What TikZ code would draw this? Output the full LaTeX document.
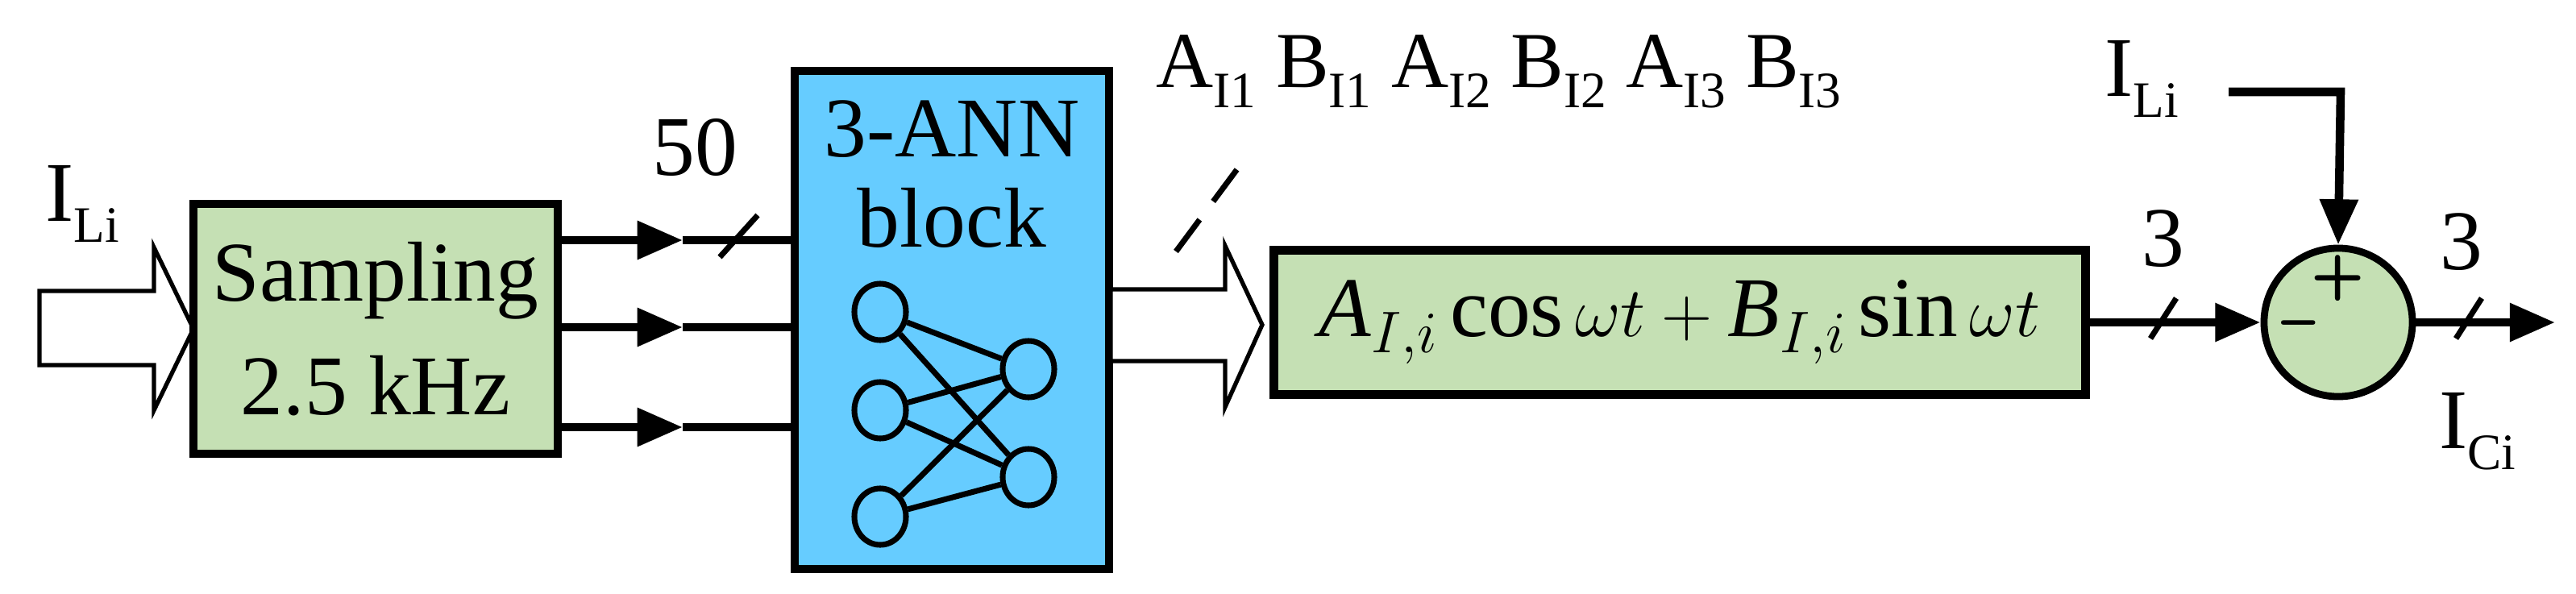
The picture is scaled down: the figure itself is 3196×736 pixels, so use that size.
\documentclass[tikz,border=0pt]{standalone}
\usepackage{fontspec}
\setmainfont{Liberation Serif}
\newfontfamily\tms{Liberation Serif}
\usetikzlibrary{arrows.meta,shapes.geometric}
\definecolor{bgreen}{RGB}{197,224,180}
\definecolor{bblue}{RGB}{102,204,255}
\newcommand{\sbs}[1]{\raisebox{-0.25em}{\fontsize{18}{20}\selectfont #1}}
\begin{document}
\begin{tikzpicture}[x=0.01cm,y=-0.01cm,
  blk/.style={draw,line width=3pt,inner sep=0pt},
  sig/.style={line width=3pt,-{Triangle[length=16pt,width=13pt]}},
  wire/.style={line width=3pt},
  hollow/.style={draw,line width=1.5pt,fill=white,line join=miter},
  neuron/.style={draw,line width=2pt,ellipse,minimum width=0.64cm,minimum height=0.70cm,inner sep=0pt},
  txt/.style={font=\tms\fontsize{30}{34}\selectfont,inner sep=0pt},
  slash/.style={line width=2pt}]
\path[use as bounding box] (0,0) rectangle (3196,736);
% hollow input arrow
\draw[hollow] (49,361) -- (191,361) -- (191,307) -- (240,408) -- (191,509) -- (191,453) -- (49,453) -- cycle;
\node[txt] (ili) at (102,253) {I\sbs{Li}};
% blocks
\node[blk,fill=bgreen,minimum width=4.52cm,minimum height=3.10cm] (samp) at (466,408) {};
\node[txt,align=center] (samptxt) at (466,408) {Sampling\\[6pt]2.5 kHz};
\node[blk,fill=bblue,minimum width=3.90cm,minimum height=6.18cm] (ann) at (1181,397) {};
\node[txt] (t1) at (1181,160) {3-ANN};
\node[txt] (t2) at (1181,270) {block};
% neurons
\node[neuron] (n1) at (1092,387) {};
\node[neuron] (n2) at (1092,509) {};
\node[neuron] (n3) at (1092,641) {};
\node[neuron] (n4) at (1276,458) {};
\node[neuron] (n5) at (1276,592) {};
\foreach \a in {n1,n2,n3}\foreach \b in {n4,n5}\draw[line width=2pt] (\a) -- (\b);
% three signal lines
\foreach \yy/\nm in {298/a,406/b,530/c}{
  \coordinate (p\nm) at (847,\yy);
  \draw[sig] (samp.east|-p\nm) -- (p\nm);
  \draw[wire] (p\nm) -- (ann.west|-p\nm);
}
\draw[slash] (893,319) -- (940,267);
\node[txt] (fifty) at (862,183) {50};
% hollow output arrow
\draw[hollow] (1378,359) -- (1520,359) -- (1520,305) -- (1566,403) -- (1520,505) -- (1520,448) -- (1378,448) -- cycle;
\draw[slash,dash pattern=on 14pt off 8pt] (1459,312) -- (1546,195);
\node[txt,anchor=west,font=\tms\fontsize{28}{32}\selectfont] (abl) at (1434,89) {A\sbs{I1} B\sbs{I1} A\sbs{I2} B\sbs{I2} A\sbs{I3} B\sbs{I3}};
% formula box
\node[blk,fill=bgreen,minimum width=10.06cm,minimum height=1.79cm] (form) at (2084,400) {};
\node[txt] (formtxt) at (2084,400) {$\mathit{A}_{I,i}\,\mathrm{cos}\,\omega t+\mathit{B}_{I,i}\,\mathrm{sin}\,\omega t$};
% summer
\node[draw,line width=2.5pt,circle,fill=bgreen,minimum size=1.84cm,inner sep=0pt] (sum) at (2901,400) {};
\node[font=\sffamily\bfseries\fontsize{22}{24}\selectfont] (plus) at (2901,345) {+};
\node[font=\sffamily\bfseries\fontsize{22}{24}\selectfont] (minus) at (2852,410) {--};
\draw[sig] (form.east) -- (sum.west);
\draw[slash] (2668,420) -- (2700,370);
\node[txt] (three1) at (2684,296) {3};
\node[txt] (ili2) at (2657,98) {I\sbs{Li}};
\coordinate (cin) at (2765,114);
\draw[sig] (cin) -- (2904,114) -- (sum.north);
\coordinate (outp) at (3170,400);
\draw[sig] (sum.east) -- (outp);
\draw[slash] (3047,420) -- (3079,370);
\node[txt] (three2) at (3054,300) {3};
\node[txt] (ici) at (3074,535) {I\sbs{Ci}};
\end{tikzpicture}
\end{document}
